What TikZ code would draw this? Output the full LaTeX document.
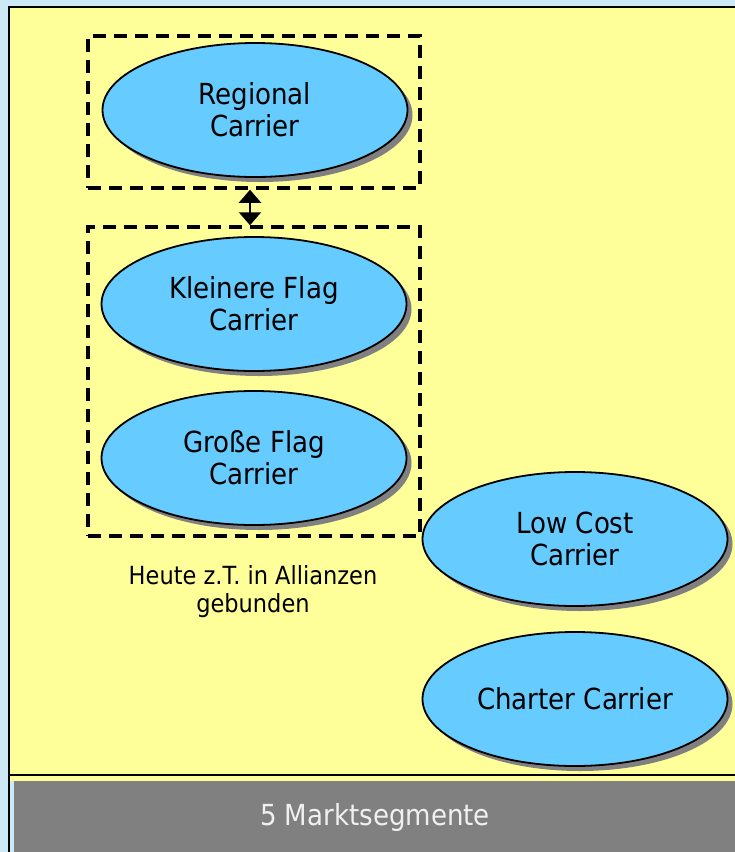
\documentclass[tikz,border=0pt]{standalone}
\usepackage{fontspec}
\setmainfont{DejaVu Sans Condensed}
\usetikzlibrary{shapes.geometric,shadows,arrows.meta,calc}
\definecolor{bgblue}{HTML}{CCE9F5}
\definecolor{paper}{HTML}{FFFF99}
\definecolor{skyfill}{HTML}{66CCFF}
\definecolor{bargray}{HTML}{808080}
\begin{document}
\begin{tikzpicture}[x=1pt,y=-1pt,
  seg/.style={ellipse, draw=black, line width=1.8pt, fill=skyfill,
    minimum width=305pt, minimum height=134pt, inner sep=0pt, align=center,
    font=\fontsize{29}{32}\selectfont,
    drop shadow={shadow xshift=5pt, shadow yshift=-5pt, fill=bargray, opacity=1}},
  groupbox/.style={draw=black, line width=3.5pt, dash pattern=on 13pt off 8pt,
    minimum width=332pt, inner sep=0pt},
  note/.style={align=center, font=\fontsize{25}{28}\selectfont}]
\useasboundingbox (0,0) rectangle (735,852);
\fill[bgblue] (0,0) rectangle (735,852);
\fill[paper] (9,7) rectangle (740,781);
\draw[line width=2.2pt] (740,7) -- (9,7) -- (9,852);
\draw[line width=2.2pt] (9,775) -- (740,775);
\fill[bargray] (14,781) rectangle (740,852);
\node[text=white!94!black, font=\fontsize{29}{32}\selectfont] (bar) at (375,817) {5 Marktsegmente};

\node[groupbox, minimum height=152pt] (box1) at (254,112) {};
\node[groupbox, minimum height=309pt] (box2) at (254,381.5) {};

\node[seg] (regional) at (255,110) {Regional\\Carrier};
\node[seg] (kleinere) at (254,304) {Kleinere Flag\\Carrier};
\node[seg] (grosse) at (254,458) {Große Flag\\Carrier};
\node[seg] (lowcost) at (575,539) {Low Cost\\Carrier};
\node[seg] (charter) at (575,699) {Charter Carrier};

\node[note] (heute) at (253,592) {Heute z.T. in Allianzen\\gebunden};

\draw[line width=2.2pt, {Triangle[width=22pt,length=13pt]}-{Triangle[width=22pt,length=13pt]}]
  ($(box1.south)+(-4,0)$) -- ($(box2.north)+(-4,0)$);
\end{tikzpicture}
\end{document}
